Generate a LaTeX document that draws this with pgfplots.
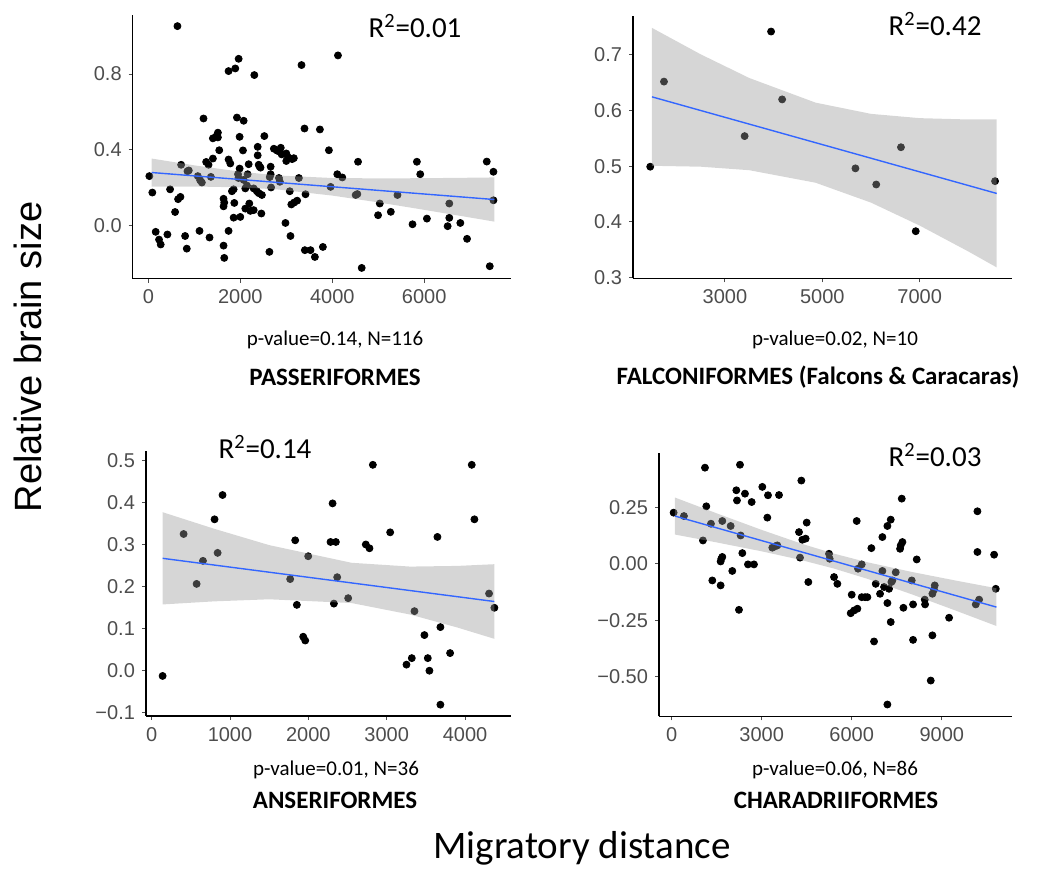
\documentclass[border=0pt]{standalone}
\usepackage{pgfplots}
\pgfplotsset{compat=1.18}
\usepackage{fontspec}
\setmainfont{Liberation Sans}
\newfontfamily\labelfont{Carlito}

\definecolor{ticktext}{RGB}{77,77,77}
\definecolor{bandgray}{RGB}{153,153,153}
\definecolor{fitblue}{RGB}{51,102,255}

\pgfplotsset{
  panel/.style={
    scale only axis,
    anchor=south west,
    axis x line*=bottom,
    axis y line*=left,
    axis line style={black, line width=0.75pt, -},
    tick style={color=ticktext, line width=0.5pt},
    tick align=outside,
    major tick length=2pt,
    ticklabel style={font=\fontsize{10}{12}\selectfont, text=ticktext},
    /pgf/number format/assume math mode=true,
    scaled x ticks=false,
    scaled y ticks=false,
    clip marker paths=true,
  },
  pts/.style={only marks, mark=*, mark size=1.75pt, mark options={draw=none, fill=black}},
  band/.style={draw=none, fill=bandgray, fill opacity=0.4},
  fit/.style={fitblue, line width=0.7pt, no marks},
}

\begin{document}
\begin{tikzpicture}
\path[use as bounding box] (0,0) rectangle (525pt,435.5pt);

% ---------------- Passeriformes ----------------
\begin{axis}[panel, at={(66.35pt,296.15pt)}, width=189pt, height=131.85pt,
  xmin=-340, xmax=7880, ymin=-0.283, ymax=1.113,
  xtick={0,2000,4000,6000}, xticklabels={0,2000,4000,6000},
  ytick={0,0.4,0.8}, yticklabels={0.0,0.4,0.8}]
\addplot[pts] coordinates {
(22,0.260) (87,0.173) (633,1.054) (160,-0.035) (233,-0.076) (269,-0.102) (415,-0.049) (473,0.190) (582,0.070) (647,0.138)
(698,0.150) (713,0.320) (800,-0.057) (836,-0.124) (851,0.286) (880,0.290) (1113,-0.030) (1076,0.260) (1127,0.238) (1164,0.226)
(1200,0.565) (1258,0.335) (1309,0.320) (1331,-0.065) (1360,0.256) (1404,0.353) (1404,0.460) (1476,0.470) (1513,0.490) (1513,0.465)
(1542,0.397) (1636,-0.108) (1651,-0.173) (1636,0.140) (1651,0.120) (1636,0.100) (1745,-0.030) (1745,0.816) (1891,0.830) (1964,0.881)
(1927,0.570) (2073,0.553) (1745,0.348) (1782,0.327) (1818,0.180) (1855,0.190) (1870,0.118) (1855,0.040) (2000,0.044) (1985,0.468)
(2058,0.396) (1950,0.270) (1985,0.300) (1960,0.250) (2073,0.240) (2109,0.195) (2145,0.210) (2182,0.323) (2160,0.270) (2109,0.088)
(2196,0.115) (2218,0.076) (2291,0.080) (2305,0.795) (2378,0.415) (2378,0.370) (2400,0.320) (2420,0.310) (2440,0.305) (2290,0.195)
(2360,0.180) (2400,0.170) (2470,0.160) (2458,0.062) (2523,0.472) (2660,0.310) (2660,0.270) (2640,0.255) (2669,0.200) (2633,-0.141)
(2730,0.405) (2800,0.395) (2850,0.390) (2880,0.410) (2900,0.375) (2840,0.250) (2860,0.230) (2982,0.012) (3000,0.380) (3040,0.360)
(3000,0.340) (3076,0.180) (3091,-0.057) (3110,0.110) (3170,0.120) (3236,0.130) (3127,0.350) (3164,0.355) (3273,0.250) (3331,0.848)
(3396,0.512) (3418,0.164) (3404,-0.132) (3527,-0.132) (3622,-0.168) (3731,0.507) (3796,-0.115) (3927,0.397) (3964,0.203) (4124,0.899)
(4109,0.270) (4218,0.253) (4509,0.160) (4545,0.165) (4560,0.336) (4640,-0.226) (4996,0.053) (5033,0.115) (5273,0.071) (5418,0.160)
(5745,0.005) (5840,0.336) (5913,0.270) (6058,0.035) (6509,-0.005) (6545,0.039) (6545,0.115) (6785,0.012) (6931,-0.072) (7360,0.337)
(7425,-0.217) (7505,0.283) (7505,0.132)
};
\addplot[band] coordinates {
(73,0.353) (1000,0.317) (2000,0.2835) (2800,0.2637) (4000,0.250) (5000,0.248) (6000,0.249) (7000,0.2515) (7527,0.253)
(7527,0.019) (7000,0.0407) (6000,0.0815) (5000,0.121) (4000,0.157) (2800,0.1897) (2000,0.2005) (1000,0.205) (73,0.205)
} -- cycle;
\addplot[fit] coordinates {(73,0.279) (7527,0.136)};
\end{axis}

% ---------------- Falconiformes ----------------
\begin{axis}[panel, at={(316.5pt,296.25pt)}, width=189.65pt, height=131.25pt,
  xmin=1113, xmax=8901, ymin=0.298, ymax=0.770,
  xtick={3000,5000,7000}, xticklabels={3000,5000,7000},
  ytick={0.3,0.4,0.5,0.6,0.7}, yticklabels={0.3,0.4,0.5,0.6,0.7}]
\addplot[pts] coordinates {
(1467,0.499) (1749,0.652) (3405,0.554) (3948,0.742) (4175,0.620)
(5680,0.496) (6107,0.467) (6615,0.534) (6918,0.383) (8547,0.473)
};
\addplot[band] coordinates {
(1502,0.7486) (2500,0.7012) (3500,0.6585) (4861,0.6142) (6000,0.594) (7000,0.5863) (8000,0.5839) (8581,0.5839)
(8581,0.3179) (8000,0.3465) (7000,0.3931) (6000,0.4344) (4861,0.4702) (3500,0.4927) (2500,0.4990) (1502,0.5006)
} -- cycle;
\addplot[fit] coordinates {(1502,0.6246) (8581,0.4509)};
\end{axis}

% ---------------- Anseriformes ----------------
\begin{axis}[panel, at={(73pt,77.5pt)}, width=182.5pt, height=132.5pt,
  xmin=-72, xmax=4586, ymin=-0.109, ymax=0.523,
  xtick={0,1000,2000,3000,4000}, xticklabels={0,1000,2000,3000,4000},
  ytick={-0.1,0,0.1,0.2,0.3,0.4,0.5}, yticklabels={−0.1,0.0,0.1,0.2,0.3,0.4,0.5}]
\addplot[pts] coordinates {
(140,-0.0135) (408,0.325) (574,0.206) (655,0.261) (803,0.360) (842,0.280) (905,0.418)
(1768,0.2175) (1832,0.310) (1853,0.156) (1934,0.080) (1960,0.071) (1998,0.272)
(2283,0.306) (2351,0.306) (2309,0.398) (2326,0.159) (2368,0.222) (2508,0.172)
(2733,0.300) (2780,0.291) (2823,0.490) (3044,0.329) (3252,0.0135) (3320,0.029)
(3354,0.141) (3481,0.084) (3524,0.029) (3545,-0.001) (3647,0.318) (3685,0.103)
(3685,-0.082) (3809,0.041) (4085,0.490) (4119,0.360) (4306,0.183) (4374,0.149)
};
\addplot[band] coordinates {
(140,0.377) (800,0.3374) (1500,0.2985) (2550,0.2564) (3300,0.2473) (3900,0.2489) (4374,0.253)
(4374,0.075) (3900,0.1021) (3300,0.1329) (2550,0.1604) (1500,0.1693) (800,0.1644) (140,0.157)
} -- cycle;
\addplot[fit] coordinates {(140,0.267) (4374,0.164)};
\end{axis}

% ---------------- Charadriiformes ----------------
\begin{axis}[panel, at={(329.5pt,77.25pt)}, width=176.65pt, height=131.75pt,
  xmin=-420, xmax=11350, ymin=-0.676, ymax=0.490,
  xtick={0,3000,6000,9000}, xticklabels={0,3000,6000,9000},
  ytick={-0.5,-0.25,0,0.25}, yticklabels={−0.50,−0.25,0.00,0.25}]
\addplot[pts] coordinates {
(67,0.226) (411,0.211) (1044,0.103) (1111,0.425) (1156,0.254) (1311,0.177) (1356,-0.074) (1633,-0.096) (1633,0.010) (1656,0.022)
(1689,0.030) (1689,0.189) (1967,0.167) (2022,-0.032) (2156,0.325) (2178,0.280) (2278,0.438) (2244,-0.204) (2300,0.125) (2356,0.047)
(2444,0.310) (2544,-0.003) (2744,-0.003) (2667,0.273) (3022,0.340) (3189,0.204) (3211,0.303) (3355,0.071) (3444,0.077) (3522,0.081)
(3578,0.304) (4244,0.140) (4278,0.027) (4322,0.368) (4355,0.106) (4466,0.111) (4500,0.182) (4555,-0.081) (5244,0.044) (5266,0.022)
(5411,-0.059) (5522,-0.089) (6000,-0.137) (5966,-0.219) (6077,-0.207) (6189,-0.199) (6166,0.189) (6211,-0.022) (6333,-0.003) (6333,-0.148)
(6444,-0.148) (6522,-0.148) (6655,0.069) (6744,-0.344) (6800,-0.089) (6944,-0.133) (7022,0.118) (7022,-0.032) (7078,-0.103) (7189,-0.174)
(7189,0.167) (7189,-0.623) (7244,-0.111) (7300,0.195) (7300,-0.258) (7322,-0.081) (7355,-0.074) (7466,-0.038) (7611,0.066) (7633,0.081)
(7689,0.096) (7667,0.288) (7722,-0.195) (8000,-0.074) (8044,-0.180) (8044,-0.337) (8166,0.019) (8433,-0.159) (8444,-0.180) (8633,-0.517)
(8688,-0.317) (8688,-0.133) (8744,-0.115) (8766,-0.096) (9244,-0.239) (10133,-0.180) (10244,-0.159) (10188,0.232) (10188,0.052) (10744,0.040)
(10799,-0.111)
};
\addplot[band] coordinates {
(111,0.2929) (1500,0.2231) (3000,0.1497) (4300,0.0899) (5400,0.045) (6500,0.0071) (8000,-0.0363) (9500,-0.0754) (10821,-0.1084)
(10821,-0.2756) (9500,-0.2092) (8000,-0.1353) (6500,-0.0659) (5400,-0.021) (4300,0.0169) (3000,0.0549) (1500,0.0943) (111,0.1291)
} -- cycle;
\addplot[fit] coordinates {(111,0.211) (10821,-0.192)};
\end{axis}

% ---------------- annotations ----------------
\begin{scope}[every node/.style={inner sep=0pt}]
\node[font=\labelfont\fontsize{14.5}{17}\selectfont] at (207.5pt,422.5pt) {R\textsuperscript{2}=0.01};
\node[font=\labelfont\fontsize{14.5}{17}\selectfont] at (467.5pt,423.5pt) {R\textsuperscript{2}=0.42};
\node[font=\labelfont\fontsize{14.5}{17}\selectfont] at (132.5pt,212pt) {R\textsuperscript{2}=0.14};
\node[font=\labelfont\fontsize{14.5}{17}\selectfont] at (467.5pt,208pt) {R\textsuperscript{2}=0.03};

\node[font=\labelfont\fontsize{10.5}{12}\selectfont] at (167.5pt,265.5pt) {p-value=0.14, N=116};
\node[font=\labelfont\fontsize{10.5}{12}\selectfont] at (417.5pt,265.5pt) {p-value=0.02, N=10};
\node[font=\labelfont\fontsize{10.5}{12}\selectfont] at (168pt,50.5pt) {p-value=0.01, N=36};
\node[font=\labelfont\fontsize{10.5}{12}\selectfont] at (417.5pt,50.5pt) {p-value=0.06, N=86};

\node[font=\labelfont\bfseries\fontsize{12.5}{14}\selectfont] at (167.5pt,247pt) {PASSERIFORMES};
\node[font=\labelfont\bfseries\fontsize{12.5}{14}\selectfont] at (409pt,247pt) {FALCONIFORMES (Falcons \& Caracaras)};
\node[font=\labelfont\bfseries\fontsize{12.5}{14}\selectfont] at (167.5pt,35.5pt) {ANSERIFORMES};
\node[font=\labelfont\bfseries\fontsize{12.5}{14}\selectfont] at (418pt,35.5pt) {CHARADRIIFORMES};

\node[font=\labelfont\fontsize{19.5}{23}\selectfont] at (291pt,11.5pt) {Migratory distance};
\node[font=\fontsize{19}{22}\selectfont, rotate=90] at (14pt,257pt) {Relative brain size};
\end{scope}
\end{tikzpicture}
\end{document}
